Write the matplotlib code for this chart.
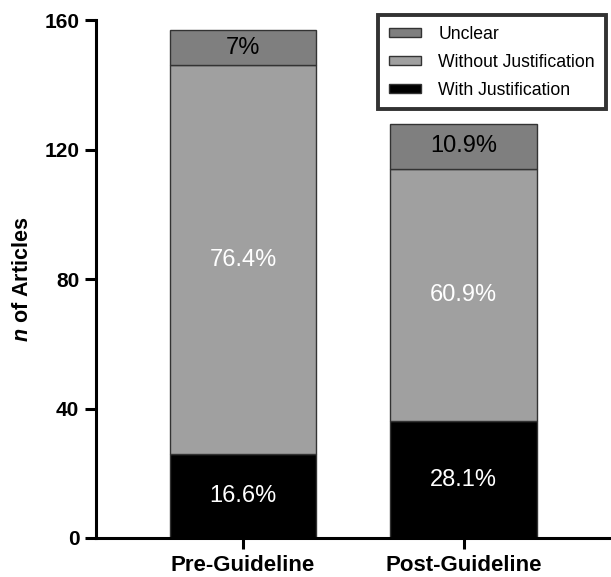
import matplotlib
matplotlib.use('Agg')
import numpy as np
import matplotlib.pyplot as plt

plt.rcParams['font.family'] = ['Liberation Sans', 'DejaVu Sans']
plt.rcParams['mathtext.fontset'] = 'custom'
plt.rcParams['mathtext.it'] = 'Liberation Sans:italic:bold'
plt.rcParams['mathtext.rm'] = 'Liberation Sans:bold'

groups = ['Pre-Guideline', 'Post-Guideline']
with_just = [26, 36]
without_just = [120, 78]
unclear = [11, 14]
pct_with = ['16.6%', '28.1%']
pct_without = ['76.4%', '60.9%']
pct_unclear = ['7%', '10.9%']

fig = plt.figure(figsize=(6.11, 5.77), dpi=100)
ax = fig.add_axes([0.157, 0.0676, 0.84, 0.8977])

x = np.arange(len(groups))
w = 0.665
b1 = ax.bar(x, with_just, w, color='black', edgecolor='#333333', linewidth=1,
            label='With Justification')
b2 = ax.bar(x, without_just, w, bottom=with_just, color='#a0a0a0',
            edgecolor='#333333', linewidth=1, label='Without Justification')
bot3 = np.array(with_just) + np.array(without_just)
b3 = ax.bar(x, unclear, w, bottom=bot3, color='#7f7f7f',
            edgecolor='#333333', linewidth=1, label='Unclear')

ax.bar_label(b1, labels=pct_with, label_type='center', color='white', fontsize=17)
ax.bar_label(b2, labels=pct_without, label_type='center', color='white', fontsize=17)
ax.bar_label(b3, labels=pct_unclear, label_type='center', color='black', fontsize=17)

ax.set_xlim(-0.667, 1.66)
ax.set_ylim(0, 160)
ax.set_yticks([0, 40, 80, 120, 160])
ax.set_xticks(x)
ax.set_xticklabels(groups, fontsize=16, fontweight='bold')
for t in ax.get_yticklabels():
    t.set_fontsize(15)
    t.set_fontweight('bold')
ax.tick_params(axis='both', direction='out', length=8, width=2.2, pad=4)
ax.spines['top'].set_visible(False)
ax.spines['right'].set_visible(False)
ax.spines['left'].set_linewidth(2.2)
ax.spines['bottom'].set_linewidth(2.2)

ax.set_ylabel(r'$n$ of Articles', fontsize=15.5, fontweight='bold', labelpad=8)

handles = [b3, b2, b1]
leg = ax.legend(handles, [h.get_label() for h in handles], loc='upper right',
                bbox_to_anchor=(1.0, 1.016), fontsize=12.7, frameon=True,
                fancybox=False, edgecolor='black', handlelength=1.8,
                handleheight=0.4, labelspacing=0.62, borderpad=0.6,
                handletextpad=1.0, borderaxespad=0.2)
leg.get_frame().set_linewidth(2.8)

fig.savefig('out.png', dpi=100)
